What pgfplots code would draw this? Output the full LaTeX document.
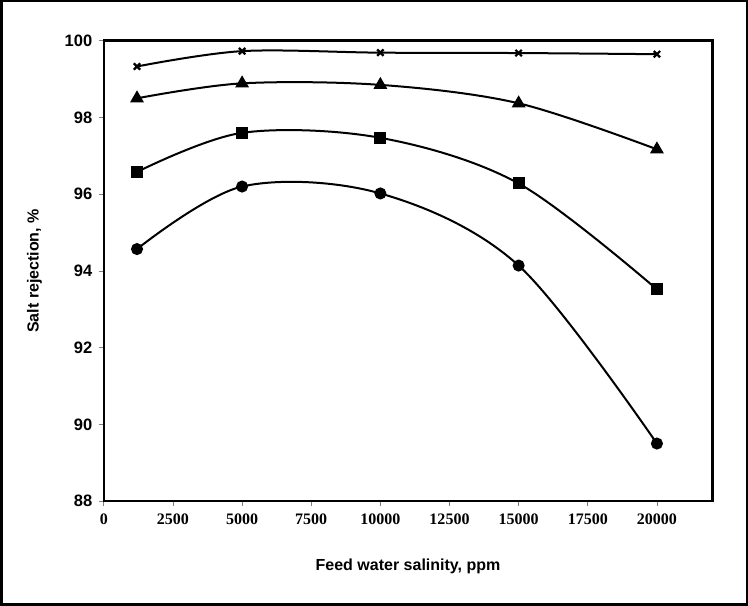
\documentclass[border=0pt]{standalone}
\usepackage{pgfplots}
\pgfplotsset{compat=1.18}
\usepackage{fontspec}
\setmainfont{Liberation Sans}
\newfontfamily\timesfont{Liberation Serif}
\begin{document}
\begin{tikzpicture}
\draw[line width=2.5pt] (1.5pt,1.5pt) rectangle (746.5pt,604.5pt);
\begin{axis}[
  at={(104pt,105pt)}, anchor=south west,
  scale only axis,
  width=608pt, height=460pt,
  xmin=0, xmax=22000,
  ymin=88, ymax=100,
  xtick={0,2500,...,20000},
  ytick={88,90,...,100},
  scaled x ticks=false,
  xticklabel style={font=\timesfont\bfseries\fontsize{16}{18}\selectfont, yshift=-4pt},
  yticklabel style={font=\bfseries\fontsize{16.5}{18}\selectfont, xshift=-3pt},
  /pgf/number format/assume math mode=true,
  /pgf/number format/1000 sep={},
  tick align=outside,
  tick pos=left,
  major tick length=5pt,
  tick style={gray, line width=0.7pt},
  axis line style={line width=2.6pt},
  xlabel={Feed water salinity, ppm},
  ylabel={Salt rejection, \%},
  label style={font=\bfseries\fontsize{16}{18}\selectfont},
  xlabel style={yshift=-28pt},
  ylabel style={yshift=16pt},
  every axis plot/.append style={black, line width=2pt, smooth, tension=0.55},
]
\addplot[mark=*, mark size=5pt] coordinates {
  (1200,94.57) (5000,96.20) (10000,96.02) (15000,94.14) (20000,89.50)};
\addplot[mark=square*, mark size=5pt] coordinates {
  (1200,96.58) (5000,97.60) (10000,97.47) (15000,96.28) (20000,93.52)};
\addplot[mark=triangle*, mark size=6pt] coordinates {
  (1200,98.50) (5000,98.89) (10000,98.85) (15000,98.37) (20000,97.17)};
\addplot[mark=x, mark size=4.5pt, mark options={line width=2.2pt}] coordinates {
  (1200,99.33) (5000,99.73) (10000,99.69) (15000,99.68) (20000,99.65)};
\end{axis}
\end{tikzpicture}
\end{document}
